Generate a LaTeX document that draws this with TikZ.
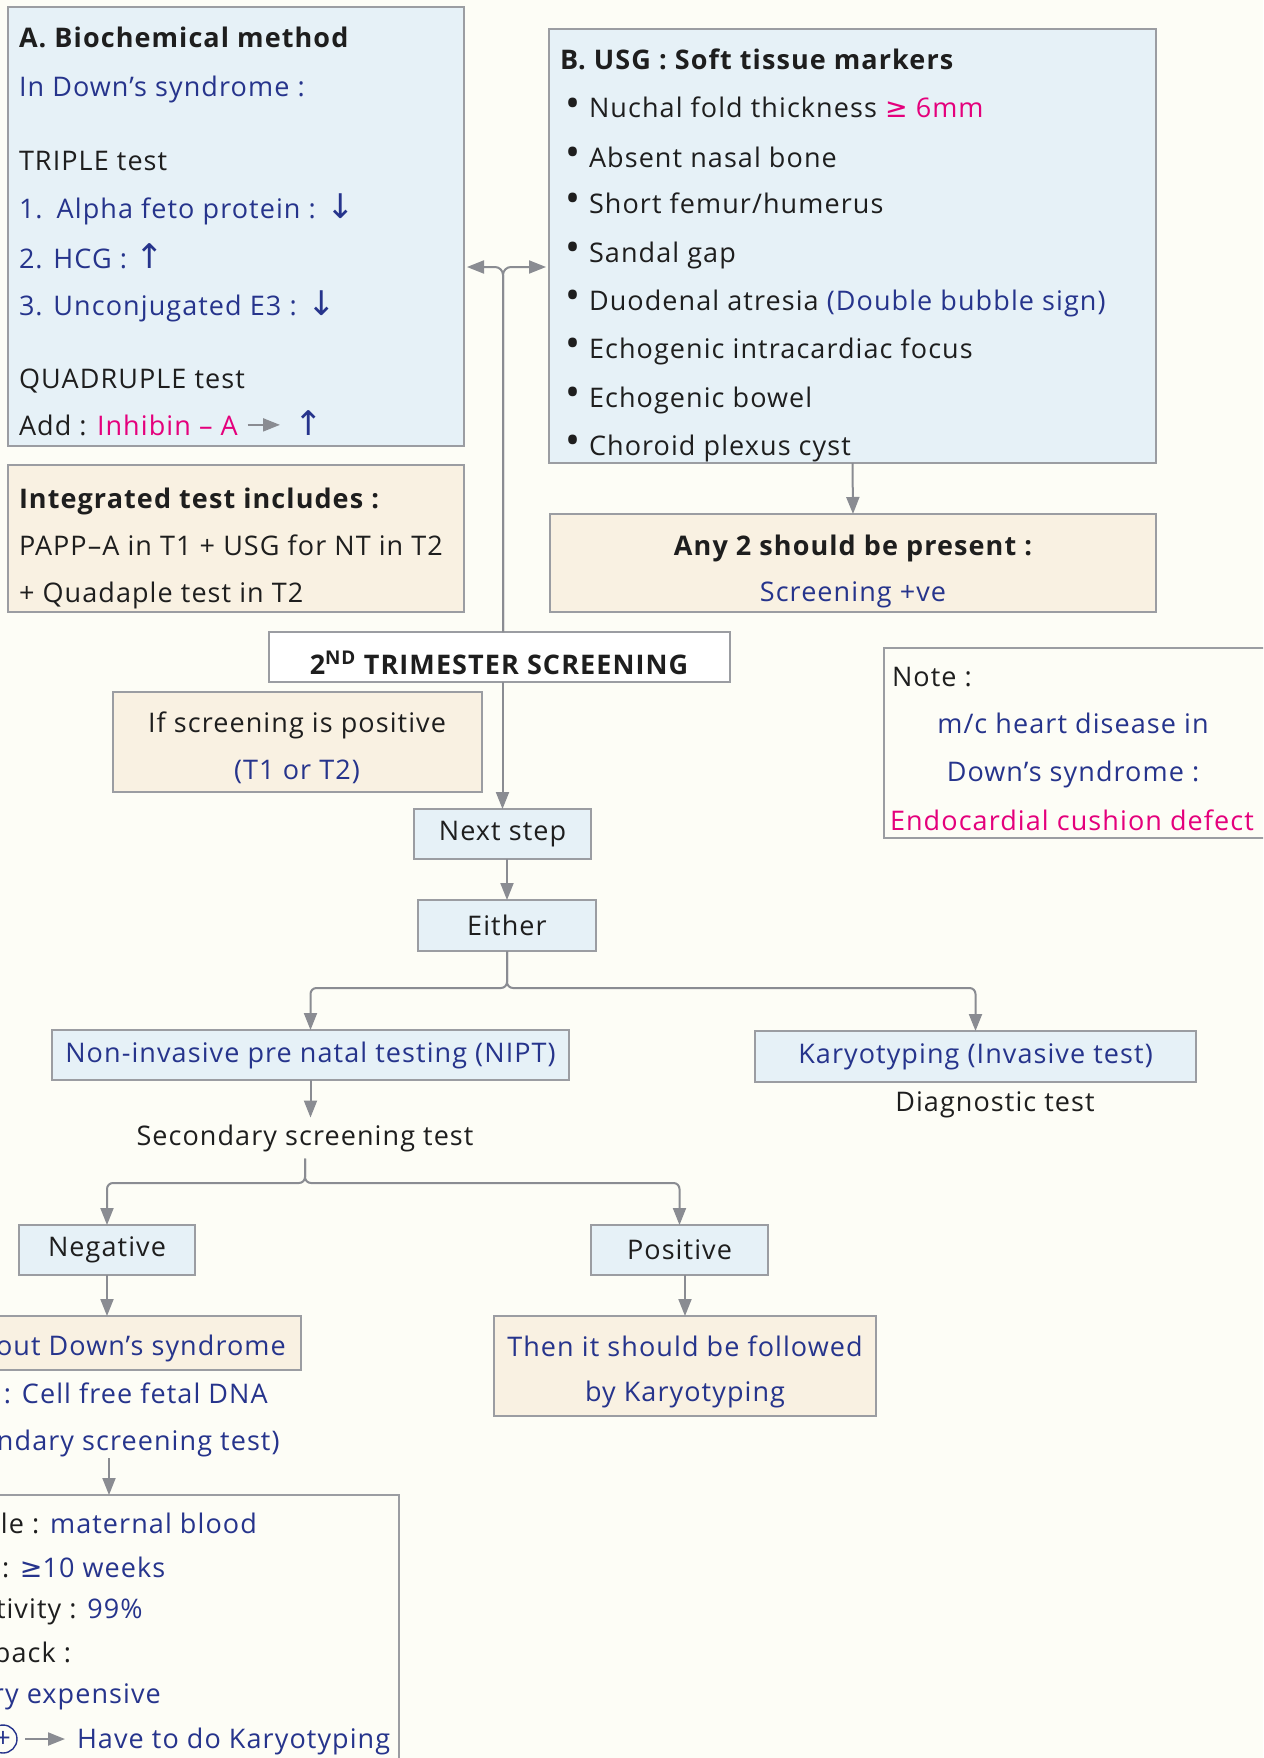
\documentclass[tikz,border=0pt]{standalone}
\usepackage{fontspec}
\setmainfont{Open Sans}[LetterSpace=4]
\newfontfamily\sym{DejaVu Sans}
\usetikzlibrary{arrows.meta,calc}
\definecolor{bgc}{RGB}{253,253,246}
\definecolor{lblue}{RGB}{230,241,247}
\definecolor{beige}{RGB}{249,241,226}
\definecolor{bord}{RGB}{155,157,162}
\definecolor{agray}{RGB}{138,140,146}
\definecolor{tblue}{RGB}{38,52,140}
\definecolor{tpink}{RGB}{228,0,124}
\definecolor{tblack}{RGB}{30,30,30}
\newcommand\myDown{{\sym\fontsize{34}{34}\selectfont ↓}}
\newcommand\myUp{{\sym\fontsize{34}{34}\selectfont ↑}}
\newcommand\mybul{\makebox[24pt][l]{\raisebox{1pt}{\fontsize{40}{40}\selectfont •}}}
\begin{document}
\begin{tikzpicture}[x=1pt,y=-1pt,
  every node/.style={inner sep=0pt, outer sep=0pt, text=tblack, font=\fontsize{27}{32}\selectfont},
  box/.style={draw=bord, line width=1.8pt, rectangle, anchor=north west},
  hfont/.style={font=\fontsize{27}{32}\selectfont\bfseries},
  tl/.style={anchor=base west},
  tc/.style={anchor=base},
  tr/.style={anchor=base east},
  arr/.style={draw=agray, line width=2pt, -{Triangle[length=17pt,width=13pt]}},
]
\useasboundingbox (0,0) rectangle (1263,1758);
\fill[bgc] (0,0) rectangle (1263,1758);
\clip (0,0) rectangle (1263,1758);

% boxes
\node[box,fill=lblue,minimum width=456,minimum height=439] (A) at (8,7) {};
\node[box,fill=lblue,minimum width=607,minimum height=434] (B) at (549,29) {};
\node[box,fill=beige,minimum width=456,minimum height=147] (Integ) at (8,465) {};
\node[box,fill=beige,minimum width=606,minimum height=98] (Any) at (550,514) {};
\node[box,fill=white,minimum width=461,minimum height=50] (Tri) at (269,632) {};
\node[box,fill=beige,minimum width=369,minimum height=100] (Ifpos) at (113,692) {};
\node[box,fill=bgc,minimum width=420,minimum height=190] (Note) at (884,648) {};
\node[box,fill=lblue,minimum width=177,minimum height=50] (Next) at (414,809) {Next step};
\node[box,fill=lblue,minimum width=178,minimum height=51] (Either) at (418,900) {Either};
\node[box,fill=lblue,minimum width=517,minimum height=50,text=tblue] (NIPT) at (52,1030) {Non-invasive pre natal testing (NIPT)};
\node[box,fill=lblue,minimum width=441,minimum height=51,text=tblue] (Karyo) at (755,1031) {Karyotyping (Invasive test)};
\node[box,fill=lblue,minimum width=176,minimum height=50] (Neg) at (19,1225) {Negative};
\node[box,fill=lblue,minimum width=177,minimum height=50] (Pos) at (591,1225) {Positive};
\node[box,fill=beige,minimum width=321,minimum height=54] (Rule) at (-20,1316) {};
\node[box,fill=beige,minimum width=382,minimum height=100] (Follow) at (494,1316) {};
\node[box,fill=bgc,minimum width=419,minimum height=320] (Bot) at (-20,1495) {};

% box A text
\node[tl,hfont] (a1) at (19,48) {A. Biochemical method};
\node[tl,text=tblue] (a2) at (19,97) {In Down’s syndrome :};
\node[tl] (a3) at (19,170) {TRIPLE test};
\node[tl,text=tblue] (a4) at (19,218) {1.\hspace{14pt}Alpha feto protein : \myDown};
\node[tl,text=tblue] (a5) at (19,268) {2. HCG : \myUp};
\node[tl,text=tblue] (a6) at (19,315) {3. Unconjugated E3 : \myDown};
\node[tl] (a7) at (19,388) {QUADRUPLE test};
\node[tl] (a8) at (19,435) {Add :};
\node[tl,text=tpink] (a9) at (97,435) {Inhibin – A};
\node[tl,text=tblue] (a10) at (294,435) {\myUp};

% box B text
\node[tl,hfont] (b0) at (560,70) {B. USG : Soft tissue markers};
\node[tl] (b1) at (565,118) {\mybul Nuchal fold thickness {\color{tpink}{\sym ≥} 6mm}};
\node[tl] (b2) at (565,167) {\mybul Absent nasal bone};
\node[tl] (b3) at (565,213) {\mybul Short femur/humerus};
\node[tl] (b4) at (565,262) {\mybul Sandal gap};
\node[tl] (b5) at (565,310) {\mybul Duodenal atresia {\color{tblue}(Double bubble sign)}};
\node[tl] (b6) at (565,358) {\mybul Echogenic intracardiac focus};
\node[tl] (b7) at (565,407) {\mybul Echogenic bowel};
\node[tl] (b8) at (565,455) {\mybul Choroid plexus cyst};

% integrated
\node[tl,hfont] (i1) at (19,508) {Integrated test includes :};
\node[tl] (i2) at (19,555) {PAPP–A in T1 + USG for NT in T2};
\node[tl] (i3) at (19,602) {+ Quadaple test in T2};

% any 2
\node[tc,hfont] (y1) at (853,555) {Any 2 should be present :};
\node[tc,text=tblue] (y2) at (853,601) {Screening +ve};

% trimester
\node[tc,hfont] (t1) at (499,674) {2\textsuperscript{ND} TRIMESTER SCREENING};

% if positive
\node[tc] (p1) at (297,732) {If screening is positive};
\node[tc,text=tblue] (p2) at (297,779) {(T1 or T2)};

% note
\node[tl] (n1) at (892,686) {Note :};
\node[tc,text=tblue] (n2) at (1073,733) {m/c heart disease in};
\node[tc,text=tblue] (n3) at (1073,781) {Down’s syndrome :};
\node[tl,text=tpink] (n4) at (890,830) {Endocardial cushion defect};

% lower texts
\node[tc] (diag) at (995,1111) {Diagnostic test};
\node[anchor=center,inner ysep=7pt] (sst) at (305,1138) {Secondary screening test};
\node[tc,text=tblue] (f1) at (685,1356) {Then it should be followed};
\node[tc,text=tblue] (f2) at (685,1401) {by Karyotyping};
\node[tl,text=tblue] (r1) at (-4,1355) {out Down’s syndrome};
\node[tl,text=tblue] (r2) at (4,1403) {: Cell free fetal DNA};
\node[tl,text=tblue] (r3) at (-3,1450) {ndary screening test)};
\node[tl] (m1) at (1,1533) {le : {\color{tblue}maternal blood}};
\node[tl] (m2) at (2,1577) {: {\color{tblue}{\sym ≥}10 weeks}};
\node[tl] (m3) at (-4,1618) {tivity : {\color{tblue}99\%}};
\node[tl] (m4) at (-6,1662) {back :};
\node[tl,text=tblue] (m5) at (-7,1703) {ry expensive};
\node[draw=tblue,line width=1.4pt,circle,minimum size=28pt,text=tblue] (plus) at (3,1739) {+};
\node[tl,text=tblue] (m6) at (77,1748) {Have to do Karyotyping};

% connectors
\coordinate (J) at (503,267);
\draw[arr,rounded corners=8pt,shorten >=3pt] (Tri.north -| J) -- (J) -- (J -| A.east);
\draw[arr,rounded corners=8pt,shorten >=3pt] (Tri.north -| J) -- (J) -- (J -| B.west);
\draw[arr] (B.south) -- (Any.north);
\draw[arr] (Tri.south -| Next.north) -- (Next.north);
\draw[arr] (Next.south -| Either.north) -- (Either.north);
\coordinate (E1) at ($(Either.south)+(0,37)$);
\draw[arr,rounded corners=6pt] (Either.south) -- (E1) -| (NIPT.north);
\draw[arr,rounded corners=6pt] (Either.south) -- (E1) -| (Karyo.north);
\draw[arr] (NIPT.south) -- (NIPT.south |- sst.north);
\coordinate (S1) at (305,1183);
\draw[arr,rounded corners=6pt] (sst.south) -- (S1) -| (Neg.north);
\draw[arr,rounded corners=6pt] (sst.south) -- (S1) -| (Pos.north);
\draw[arr] (Neg.south) -- (Neg.south |- Rule.north);
\draw[arr] (Follow.north |- Pos.south) -- (Follow.north);
\coordinate (C1) at (109,1458);
\draw[arr] (C1) -- (C1 |- Bot.north);
\draw[arr,shorten <=10pt,shorten >=14pt] (a9.east) -- (a9.east -| a10.west);
\draw[arr,shorten <=8pt,shorten >=12pt] (plus.east) -- (plus.east -| m6.west);
\end{tikzpicture}
\end{document}
